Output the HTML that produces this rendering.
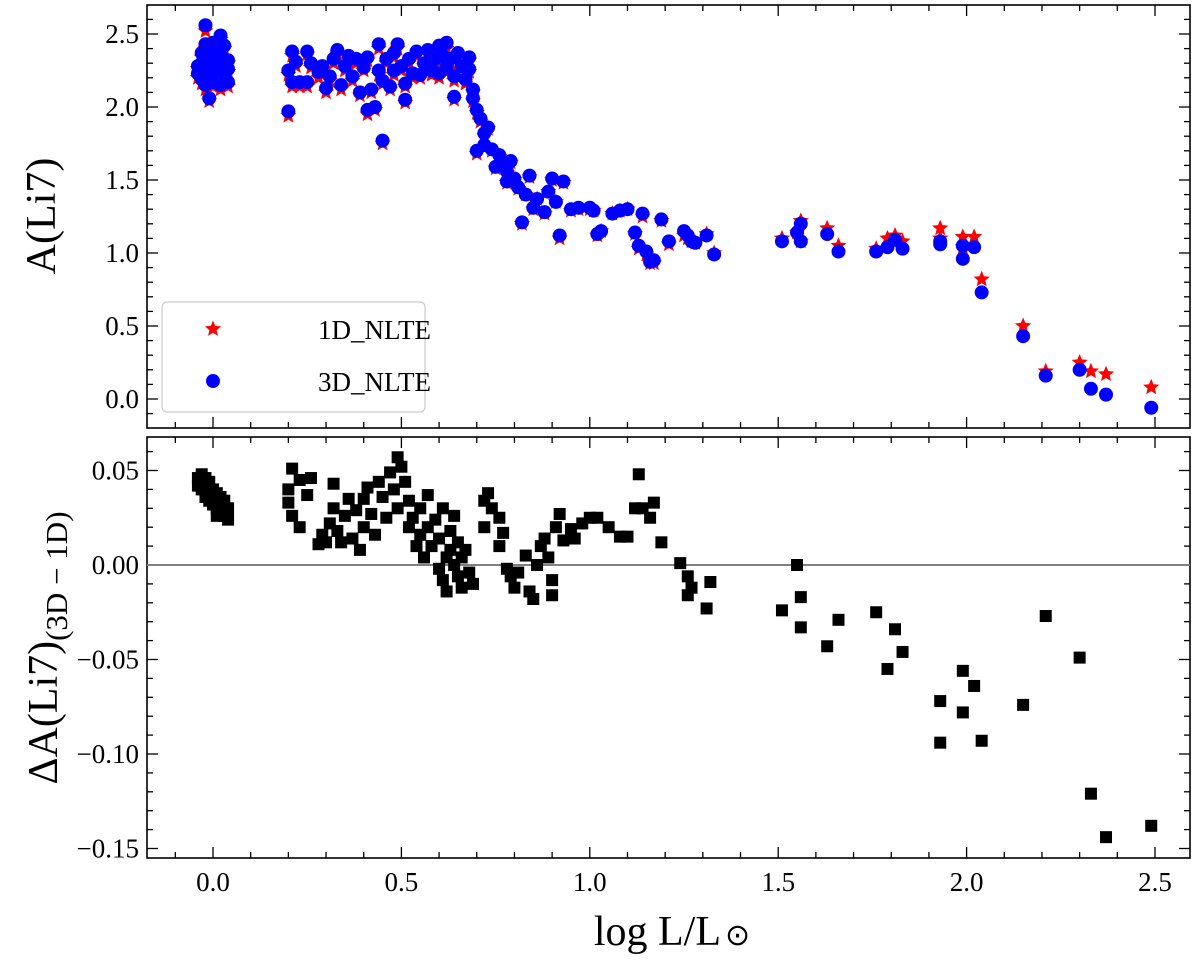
<!DOCTYPE html>
<html><head><meta charset="utf-8"><style>
html,body{margin:0;padding:0;background:#fff;}
svg{display:block;font-family:"Liberation Serif",serif;}
svg text{font-family:"Liberation Serif",serif;}
</style></head><body>
<svg id="chart" width="1200" height="960" viewBox="0 0 1200 960" xmlns="http://www.w3.org/2000/svg" font-family="Liberation Serif, serif">
<g id="top-panel"></g>
<g id="bot-panel"></g>
<text transform="translate(55,216) rotate(-90)" text-anchor="middle" font-size="42">A(Li7)</text>
<text transform="translate(57,648) rotate(-90)" text-anchor="middle" font-size="42">ΔA(Li7)<tspan font-size="31" dy="10">(3D − 1D)</tspan></text>
<text x="672" y="945" text-anchor="middle" font-size="42">log L/L<tspan font-size="30" dx="4">⊙</tspan></text>
</svg>
<script>
// ---- data: top panel (luminosity, 1D NLTE, 3D NLTE) ----
const lumTop = [-0.04,-0.04,-0.03,-0.03,-0.03,-0.02,-0.02,-0.02,-0.02,-0.01,-0.01,-0.01,-0.01,0.00,0.00,0.00,0.01,0.01,0.02,0.02,0.02,0.03,0.03,0.03,0.04,0.04,0.04,
0.20,0.20,0.21,0.21,0.22,0.23,0.25,0.25,0.26,0.28,0.29,0.30,0.31,0.32,0.33,0.34,0.35,0.36,0.37,0.38,0.39,0.40,0.41,0.41,0.42,0.43,0.44,0.44,0.45,0.45,0.46,0.47,0.48,0.48,0.49,0.50,0.51,0.51,0.52,0.53,0.54,0.55,0.56,0.57,0.58,0.59,0.60,0.60,0.61,0.62,0.62,0.63,0.64,0.64,0.65,0.66,0.67,0.68,0.68,
0.69,0.69,0.70,0.70,0.71,0.72,0.72,0.73,0.74,0.75,0.76,0.77,0.78,0.78,0.79,0.80,0.81,0.82,0.83,0.84,0.85,0.86,0.88,0.89,0.90,0.91,0.92,0.93,0.95,0.97,
1.00,1.01,1.02,1.03,1.06,1.08,1.10,1.12,1.13,1.14,1.15,1.16,1.17,1.19,1.21,1.25,1.26,1.27,1.28,1.31,1.33,
1.51,1.55,1.56,1.56,1.63,1.66,1.76,1.79,1.81,1.83,1.93,1.93,1.99,1.99,2.02,2.04,2.15,2.21,2.30,2.33,2.37,2.49];
const li1D = [2.26,2.20,2.34,2.16,2.28,2.52,2.40,2.24,2.12,2.36,2.30,2.18,2.04,2.42,2.26,2.14,2.32,2.22,2.46,2.36,2.12,2.40,2.28,2.20,2.30,2.14,2.24,
2.22,1.94,2.35,2.14,2.28,2.14,2.14,2.36,2.27,2.20,2.26,2.10,2.18,2.30,2.36,2.12,2.25,2.32,2.18,2.30,2.08,2.25,1.95,2.32,2.10,1.98,2.40,2.22,1.75,2.16,2.30,2.12,2.34,2.22,2.40,2.25,2.03,2.14,2.30,2.20,2.35,2.20,2.28,2.36,2.22,2.30,2.38,2.20,2.32,2.40,2.24,2.30,2.05,2.18,2.34,2.26,2.16,2.32,2.24,
2.10,2.04,1.96,1.68,1.90,1.80,1.72,1.85,1.70,1.58,1.66,1.60,1.48,1.55,1.62,1.50,1.44,1.20,1.40,1.52,1.30,1.37,1.27,1.42,1.50,1.35,1.10,1.48,1.29,1.30,
1.30,1.29,1.12,1.15,1.27,1.29,1.30,1.13,1.03,1.25,0.99,0.93,0.93,1.22,1.06,1.12,1.10,1.08,1.07,1.13,1.00,
1.10,1.14,1.22,1.08,1.17,1.05,1.03,1.10,1.12,1.08,1.17,1.10,1.04,1.11,1.11,0.82,0.50,0.19,0.25,0.19,0.17,0.08];
const li3D = [2.28,2.23,2.37,2.19,2.30,2.56,2.43,2.27,2.15,2.39,2.33,2.21,2.06,2.44,2.29,2.17,2.35,2.25,2.49,2.38,2.15,2.42,2.31,2.23,2.32,2.17,2.26,
2.25,1.97,2.38,2.17,2.31,2.17,2.17,2.38,2.30,2.24,2.28,2.13,2.21,2.33,2.39,2.15,2.28,2.35,2.21,2.33,2.10,2.27,1.98,2.34,2.12,2.00,2.43,2.25,1.77,2.18,2.33,2.14,2.37,2.25,2.43,2.28,2.05,2.16,2.33,2.23,2.38,2.22,2.30,2.39,2.25,2.33,2.42,2.23,2.35,2.44,2.27,2.33,2.07,2.21,2.37,2.28,2.19,2.34,2.26,
2.12,2.06,1.98,1.70,1.92,1.82,1.74,1.86,1.71,1.59,1.67,1.61,1.49,1.56,1.63,1.51,1.45,1.21,1.40,1.53,1.31,1.37,1.28,1.42,1.51,1.35,1.12,1.49,1.30,1.31,
1.31,1.29,1.13,1.15,1.27,1.29,1.30,1.14,1.05,1.27,1.01,0.94,0.95,1.23,1.08,1.15,1.12,1.08,1.07,1.12,0.99,
1.08,1.14,1.20,1.08,1.13,1.01,1.01,1.04,1.09,1.03,1.08,1.06,0.96,1.05,1.04,0.73,0.43,0.16,0.20,0.07,0.03,-0.06];
// ---- data: bottom panel (luminosity, delta A) ----
const lumBot = [-0.04,-0.04,-0.03,-0.03,-0.03,-0.02,-0.02,-0.02,-0.01,-0.01,-0.01,0.00,0.00,0.00,0.01,0.01,0.02,0.02,0.03,0.03,0.04,0.04,0.02,0.01,
0.21,0.20,0.20,0.21,0.23,0.23,0.25,0.26,0.28,0.29,0.30,0.31,0.32,0.32,0.33,0.34,0.35,0.36,0.37,0.38,0.39,0.40,0.40,0.41,0.42,0.43,0.44,0.45,0.46,0.47,0.48,0.49,0.49,0.50,0.51,0.52,0.52,0.53,0.54,0.55,0.55,0.56,0.57,0.57,0.58,0.59,0.60,0.60,0.61,0.61,0.62,0.62,0.63,0.63,0.64,0.64,0.65,0.65,0.66,0.66,0.67,0.68,0.69,
0.72,0.72,0.74,0.73,0.76,0.76,0.77,0.78,0.79,0.80,0.81,0.83,0.84,0.85,0.86,0.87,0.88,0.89,0.90,0.90,0.91,0.92,0.93,0.95,0.96,0.98,
1.00,1.02,1.05,1.08,1.10,1.12,1.13,1.14,1.16,1.17,1.19,1.24,1.26,1.26,1.27,1.31,1.32,
1.51,1.55,1.56,1.56,1.63,1.66,1.76,1.79,1.81,1.83,1.93,1.93,1.99,1.99,2.02,2.04,2.15,2.21,2.30,2.33,2.37,2.49];
const deltaA = [0.046,0.042,0.048,0.044,0.040,0.046,0.040,0.036,0.044,0.038,0.034,0.040,0.036,0.032,0.038,0.030,0.036,0.028,0.034,0.026,0.030,0.024,0.032,0.026,
0.051,0.040,0.033,0.026,0.020,0.045,0.037,0.046,0.011,0.016,0.012,0.022,0.043,0.030,0.018,0.012,0.026,0.035,0.014,0.029,0.008,0.020,0.035,0.041,0.027,0.016,0.044,0.036,0.025,0.049,0.040,0.057,0.030,0.052,0.044,0.034,0.020,0.025,0.010,0.030,0.016,0.004,0.020,0.037,0.010,0.024,-0.002,0.014,0.030,-0.008,0.004,-0.014,0.018,0.008,0.000,0.026,-0.006,0.012,0.004,-0.012,0.008,-0.004,-0.010,
0.034,0.020,0.030,0.038,0.025,0.010,0.017,-0.002,-0.006,-0.012,-0.004,0.005,-0.014,-0.018,0.000,0.010,0.014,0.004,-0.008,-0.016,0.020,0.027,0.013,0.019,0.014,0.022,
0.025,0.025,0.020,0.015,0.015,0.030,0.048,0.030,0.025,0.033,0.012,0.001,-0.006,-0.016,-0.012,-0.023,-0.009,
-0.024,0.000,-0.017,-0.033,-0.043,-0.029,-0.025,-0.055,-0.034,-0.046,-0.072,-0.094,-0.078,-0.056,-0.064,-0.093,-0.074,-0.027,-0.049,-0.121,-0.144,-0.138];
const xTicks = [0.0,0.5,1.0,1.5,2.0,2.5];
const topYTicks = [0.0,0.5,1.0,1.5,2.0,2.5];
const botYTicks = [-0.15,-0.10,-0.05,0.00,0.05];

const NS='http://www.w3.org/2000/svg';
const L=147,R=1190;
const T1=5,B1=428,T2=437,B2=858;
const X0=213, XS=376.8;
const sx=v=>X0+v*XS;
const syTop=v=>399-v*146;
const syBot=v=>565-v*1890;
function mk(tag,attrs,parent){const e=document.createElementNS(NS,tag);for(const k in attrs)e.setAttribute(k,attrs[k]);parent.appendChild(e);return e;}
const topG=document.getElementById('top-panel'), botG=document.getElementById('bot-panel');

function starPath(cx,cy,r){let d='';for(let i=0;i<10;i++){const a=-Math.PI/2+i*Math.PI/5;const rr=i%2?r*0.45:r;d+=(i?'L':'M')+(cx+rr*Math.cos(a)).toFixed(1)+' '+(cy+rr*Math.sin(a)).toFixed(1);}return d+'Z';}

function axes(g,T,B,sy,yMin,yMax,yMinorStep,yTicks,fmt,showXLabels){
  const frame=mk('rect',{x:L,y:T,width:R-L,height:B-T,fill:'none',stroke:'#000','stroke-width':1.6},g);
  
  
  for(let i=-1;i<=25;i++){const v=i/10;const x=sx(v);if(x<L||x>R)continue;const major=i%5===0;const len=major?11:6;
    mk('line',{x1:x,y1:B,x2:x,y2:B-len,stroke:'#000','stroke-width':1.3},g);
    mk('line',{x1:x,y1:T,x2:x,y2:T+len,stroke:'#000','stroke-width':1.3},g);}
  if(showXLabels){xTicks.forEach(v=>{const t=mk('text',{x:sx(v),y:B+33,'text-anchor':'middle','font-size':27,'font-family':'Liberation Serif, serif'},g);t.textContent=v.toFixed(1);
    
    });}
  const n=Math.round((yMax-yMin)/yMinorStep);
  for(let i=0;i<=n;i++){const v=yMin+i*yMinorStep;const y=sy(v);if(y<T||y>B)continue;
    const major=yTicks.some(t=>Math.abs(t-v)<1e-6);const len=major?11:6;
    mk('line',{x1:L,y1:y,x2:L+len,y2:y,stroke:'#000','stroke-width':1.3},g);
    mk('line',{x1:R,y1:y,x2:R-len,y2:y,stroke:'#000','stroke-width':1.3},g);}
  yTicks.forEach(v=>{const t=mk('text',{x:L-8,y:sy(v)+9,'text-anchor':'end','font-size':27,'font-family':'Liberation Serif, serif'},g);t.textContent=fmt(v);
    
    });
}
axes(topG,T1,B1,syTop,-0.2,2.7,0.1,topYTicks,v=>v.toFixed(1),false);
axes(botG,T2,B2,syBot,-0.16,0.07,0.01,botYTicks,v=>(v<0?'−':'')+Math.abs(v).toFixed(2),true);

lumTop.forEach((x,i)=>{const p=mk('path',{d:starPath(sx(x),syTop(li1D[i]),8.5),fill:'#ff0000'},topG);
  
  });
lumTop.forEach((x,i)=>{const c=mk('circle',{cx:sx(x),cy:syTop(li3D[i]),r:7,fill:'#0000ff'},topG);
  
  });

const lg=mk('g',{},topG);


mk('rect',{x:162,y:302,width:263,height:110,rx:5,fill:'#fff','fill-opacity':0.85,stroke:'#ccc','stroke-width':1.2},lg);
const le1=mk('path',{d:starPath(213,329,8.5),fill:'#ff0000'},lg);


const lt1=mk('text',{x:318,y:339,'font-size':27,'font-family':'Liberation Serif, serif'},lg);lt1.textContent='1D_NLTE';


const le2=mk('circle',{cx:213,cy:381,r:7,fill:'#0000ff'},lg);


const lt2=mk('text',{x:318,y:391,'font-size':27,'font-family':'Liberation Serif, serif'},lg);lt2.textContent='3D_NLTE';



const zl=mk('line',{x1:L,x2:R,y1:syBot(0),y2:syBot(0),stroke:'#808080','stroke-width':2},botG);


lumBot.forEach((x,i)=>{const s=mk('rect',{x:sx(x)-6,y:syBot(deltaA[i])-6,width:12,height:12,fill:'#000'},botG);
  
  });
</script>
</body></html>
